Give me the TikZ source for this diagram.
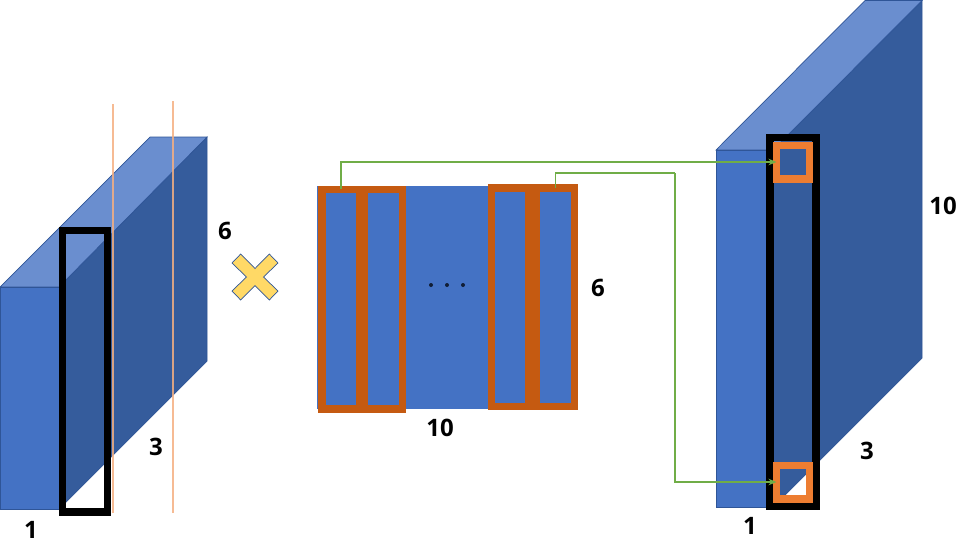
\documentclass[tikz,border=0pt]{standalone}
\usepackage{fontspec}
\setmainfont{Open Sans}
\usetikzlibrary{arrows.meta}
\definecolor{frontblue}{HTML}{4472C4}
\definecolor{sideblue}{HTML}{355C9C}
\definecolor{topblue}{HTML}{6A8ECF}
\definecolor{edgeblue}{HTML}{2F5597}
\definecolor{sliceorange}{HTML}{C55A11}
\definecolor{cellorange}{HTML}{ED7D31}
\definecolor{cutorange}{rgb}{0.96,0.69,0.51}
\definecolor{linkgreen}{HTML}{70AD47}
\definecolor{crossyellow}{HTML}{FFD966}
\begin{document}
\begin{tikzpicture}[
        x=1pt, y=-1pt,
        >={Stealth[length=8pt,width=6.5pt]},
        front/.style={fill=frontblue, draw=edgeblue, line width=0.7pt},
        side/.style={fill=sideblue, draw=edgeblue, line width=0.7pt},
        top/.style={fill=topblue, draw=edgeblue, line width=0.7pt},
        cutline/.style={draw=cutorange, line width=1.3pt, opacity=0.85},
        frame/.style={rectangle, draw=black, line width=7.6pt, inner sep=0pt, outer sep=0pt},
        slice/.style={rectangle, draw=sliceorange, line width=7.6pt, inner sep=0pt, outer sep=0pt,
            minimum width=#1},
        cell/.style={rectangle, draw=cellorange, line width=7.7pt, inner sep=0pt, outer sep=0pt,
            minimum width=33pt, minimum height=33.3pt},
        dim/.style={font=\bfseries\fontsize{24}{24}\selectfont, inner sep=0pt},
        link/.style={draw=linkgreen, line width=1.3pt}
    ]

    \useasboundingbox (0,0) rectangle (972,558);

    % left block
    \fill[white] (0,0) rectangle (972,558);
    \path[side] (207,137) -- (207,361) -- (59,509) -- (59,287) -- cycle;
    \path[top] (0,287) -- (150,137) -- (207,137) -- (59,287) -- cycle;
    \path[front] (0,287) rectangle (59,509);

    \coordinate (cut1a) at (113,104);
    \coordinate (cut1b) at (113,513);
    \coordinate (cut2a) at (173,101);
    \coordinate (cut2b) at (173,513);
    \draw[cutline] (cut1a) -- (cut1b);
    \draw[cutline] (cut2a) -- (cut2b);

    \node[frame, minimum width=45pt, minimum height=281.4pt] (leftframe) at (85,371.3) {};

    % times sign
    \path[fill=crossyellow, draw=edgeblue, line width=0.7pt]
        (255,268.5) -- (269.3,254) -- (278,263) -- (263.5,277) -- (278,291) -- (269.3,300)
        -- (255,285.5) -- (240.7,300) -- (232,291) -- (246.5,277) -- (232,263) -- (240.7,254) -- cycle;

    % middle matrix
    \node[rectangle, fill=frontblue, minimum width=259pt, minimum height=222.7pt, inner sep=0pt] (matrix) at (446.5,297.4) {};
    \node[slice=37.7pt, minimum height=219.5pt] (slice1) at (340.9,299.2) {};
    \node[slice=38.2pt, minimum height=219.5pt] (slice2) at (383.4,299.2) {};
    \node[slice=37.5pt, minimum height=218.5pt] (slice3) at (510.3,297.3) {};
    \node[slice=38pt, minimum height=218.5pt] (slice4) at (555.5,297.3) {};
    \foreach \dotx in {431,447,463}
        \fill[edgeblue!35!black] (\dotx,285) circle (2pt);

    % right block
    \path[side] (922,0.5) -- (922,358) -- (773,507) -- (773,150) -- cycle;
    \path[top] (716,150) -- (865,0.5) -- (922,0.5) -- (773,150) -- cycle;
    \path[front] (716,150) rectangle (773,507);

    \node[frame, minimum width=45.6pt, minimum height=368.5pt] (rightframe) at (793,321.8) {};
    \node[cell] (cell1) at (793,162) {};
    \node[cell] (cell2) at (793,482) {};

    \coordinate (jog) at (675,173);
    \draw[link, ->] (slice1.north) |- (cell1.west);
    \draw[link] (slice4.north) |- (jog);
    \draw[link, ->] (jog) |- (cell2.west);

    \node[dim] (l6) at (225,231) {6};
    \node[dim] (l3) at (156,447) {3};
    \node[dim] (l1) at (31,530) {1};
    \node[dim] (m10) at (440,428) {10};
    \node[dim] (m6) at (598,288) {6};
    \node[dim] (r10) at (943,206) {10};
    \node[dim] (r3) at (867,451) {3};
    \node[dim] (r1) at (750,526) {1};

    \end{tikzpicture}
\end{document}
